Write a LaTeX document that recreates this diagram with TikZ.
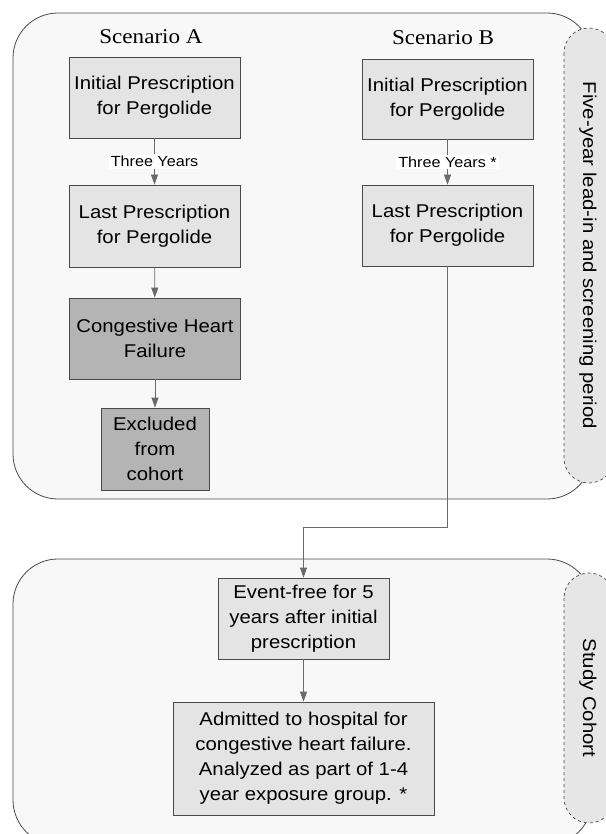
\documentclass[tikz,border=0pt]{standalone}
\usepackage{fontspec}
\setmainfont[FakeStretch=1.1]{Liberation Sans}
\newfontfamily\scenfont[FakeStretch=1.1]{Liberation Serif}
\usetikzlibrary{arrows.meta}
\definecolor{panelfill}{HTML}{F8F8F8}
\definecolor{tabfill}{HTML}{E6E6E6}
\definecolor{boxlight}{HTML}{E4E4E4}
\definecolor{boxdark}{HTML}{B4B4B4}
\definecolor{edge}{HTML}{4A4A4A}
\definecolor{arrowgray}{HTML}{6A6A6A}
\tikzset{
    panel/.style={draw=edge, fill=panelfill, line width=0.8pt, rounded corners=45pt},
    sidetab/.style={draw=edge, fill=tabfill, dashed, line width=0.7pt, rounded corners=25pt},
    tabtext/.style={rotate=-90, font=\fontsize{18.5}{22}\selectfont},
    lightbox/.style={draw=edge, fill=boxlight, line width=0.8pt, align=center, inner sep=0pt,
                     font=\fontsize{18.5}{25}\selectfont},
    darkbox/.style={lightbox, fill=boxdark},
    scentitle/.style={font=\scenfont\fontsize{21}{24}\selectfont},
    arr/.style={draw=arrowgray, line width=0.8pt, -{Triangle[length=10pt,width=7pt]}},
    yearlabel/.style={fill=white, inner sep=2pt, font=\fontsize{14.7}{17}\selectfont},
  }
\begin{document}
\begin{tikzpicture}[x=1pt, y=-1pt]
				  \useasboundingbox (0,0) rectangle (605,834);

				  %PANELS
				  \draw[panel] (13,13) rectangle (592,499);
				  \draw[panel] (13,559) rectangle (592,845);
				  \draw[sidetab] (564,28) rectangle (614,483);
				  \draw[sidetab] (564,573) rectangle (614,823);
				  \node[tabtext] (leadin) at (588,255.5) {Five-year lead-in and screening period};
				  \node[tabtext] (cohort) at (588,698) {Study Cohort};

				  %SCENARIO A
				  \node[scentitle] (titleA) at (151,37) {Scenario A};
				  \node[lightbox, minimum width=171pt, minimum height=81pt] (initA) at (154.5,97.5) {Initial Prescription\\for Pergolide};
				  \node[lightbox, minimum width=171pt, minimum height=82pt] (lastA) at (154.5,226) {Last Prescription\\for Pergolide};
				  \node[darkbox, minimum width=171pt, minimum height=81pt] (chfA) at (155,338.5) {Congestive Heart\\Failure};
				  \node[darkbox, minimum width=108pt, minimum height=82pt] (exclA) at (155,449) {Excluded\\from\\cohort};
				  \draw[arr] (initA) -- node[yearlabel] (yearsA) {Three Years} (lastA);
				  \draw[arr] (lastA) -- (chfA);
				  \draw[arr] (chfA) -- (exclA);

				  %SCENARIO B
				  \node[scentitle] (titleB) at (443,38) {Scenario B};
				  \node[lightbox, minimum width=171pt, minimum height=80pt] (initB) at (447.5,99) {Initial Prescription\\for Pergolide};
				  \node[lightbox, minimum width=171pt, minimum height=81pt] (lastB) at (447.5,225.5) {Last Prescription\\for Pergolide};
				  \draw[arr] (initB) -- node[yearlabel] (yearsB) {Three Years *} (lastB);

				  %STUDY COHORT
				  \node[lightbox, minimum width=171pt, minimum height=81pt] (free) at (303.5,618.5) {Event-free for 5\\years after initial\\prescription};
				  \node[lightbox, minimum width=261pt, minimum height=113pt] (admit) at (303.5,758.5) {Admitted to hospital for\\congestive heart failure.\\Analyzed as part of 1-4\\year exposure group. *};
				  \draw[arr] (lastB.south) -- ++(0,261) -| (free.north);
				  \draw[arr] (free) -- (admit);
\end{tikzpicture}
\end{document}
